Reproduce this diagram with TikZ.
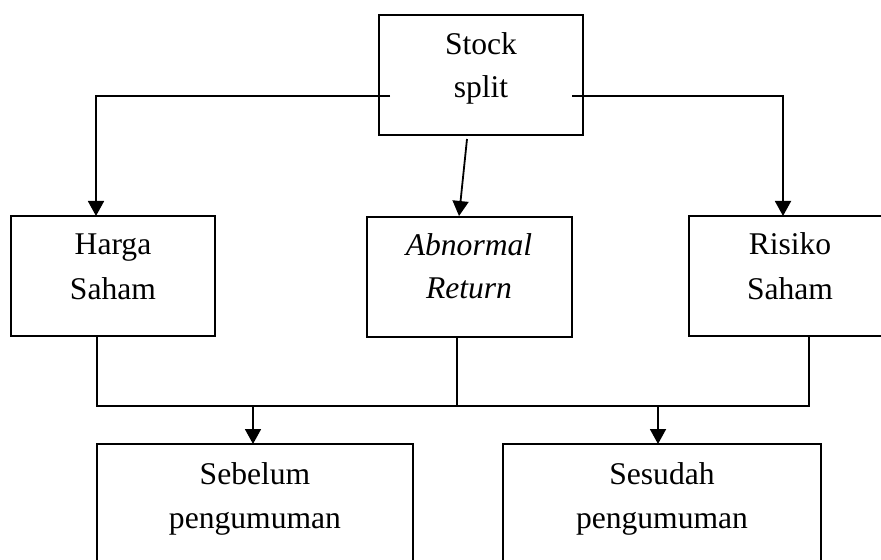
\documentclass[tikz,border=0pt]{standalone}
\usepackage{fontspec}
\setmainfont{Liberation Serif}
\usetikzlibrary{arrows.meta}
\begin{document}
\begin{tikzpicture}[x=0.5pt,y=-0.5pt,
  box/.style={draw, line width=0.8pt, rectangle, inner sep=0pt},
  lbl/.style={anchor=base, inner sep=0pt, font=\fontsize{15.8pt}{19pt}\selectfont},
  conn/.style={line width=0.9pt},
  arr/.style={line width=0.9pt, -{Triangle[width=8pt,length=7.5pt]}}]
\useasboundingbox (0,0) rectangle (881,560);
\clip (0,0) rectangle (881,560);
% boxes
\node[box, minimum width=102pt, minimum height=60pt] (ss) at (481,75) {};
\node[box, minimum width=102pt, minimum height=60pt] (hs) at (113,276) {};
\node[box, minimum width=102.5pt, minimum height=60pt] (ar) at (469.5,277) {};
\node[box, minimum width=101pt, minimum height=60pt] (rs) at (790,276) {};
\node[box, minimum width=158pt, minimum height=70pt] (sb) at (255,514) {};
\node[box, minimum width=159pt, minimum height=70pt] (sd) at (662,514) {};
% labels
\node[lbl] (ss1) at (481,55) {Stock};
\node[lbl] (ss2) at (481,98) {split};
\node[lbl] (hs1) at (113,255) {Harga};
\node[lbl] (hs2) at (113,300) {Saham};
\node[lbl] (ar1) at (469,256) {\itshape Abnormal};
\node[lbl] (ar2) at (469,299) {\itshape Return};
\node[lbl] (rs1) at (790,255) {Risiko};
\node[lbl] (rs2) at (790,300) {Saham};
\node[lbl] (sb1) at (255,484) {Sebelum};
\node[lbl] (sb2) at (255,528) {pengumuman};
\node[lbl] (sd1) at (662,484) {Sesudah};
\node[lbl] (sd2) at (662,528) {pengumuman};
% coordinates
\coordinate (sL) at (390,96);
\coordinate (sR) at (572,96);
\coordinate (hsIn) at (96,216);
\coordinate (rsIn) at (783,216);
\coordinate (sMid) at (467,139);
\coordinate (arIn) at (459,216);
\coordinate (hsOut) at (97,336);
\coordinate (arOut) at (457,337);
\coordinate (rsOut) at (809,336);
\coordinate (busL) at (97,406);
\coordinate (busR) at (809,406);
\coordinate (sbIn) at (253,444);
\coordinate (sdIn) at (658,444);
% connectors
\draw[arr] (sL) -| (hsIn);
\draw[arr] (sR) -| (rsIn);
\draw[arr] (sMid) -- (arIn);
\draw[conn] (hsOut) -- (busL) -- (busR) -- (rsOut);
\draw[conn] (arOut) -- (arOut |- busL);
\draw[arr] (sbIn |- busL) -- (sbIn);
\draw[arr] (sdIn |- busL) -- (sdIn);
\end{tikzpicture}
\end{document}
